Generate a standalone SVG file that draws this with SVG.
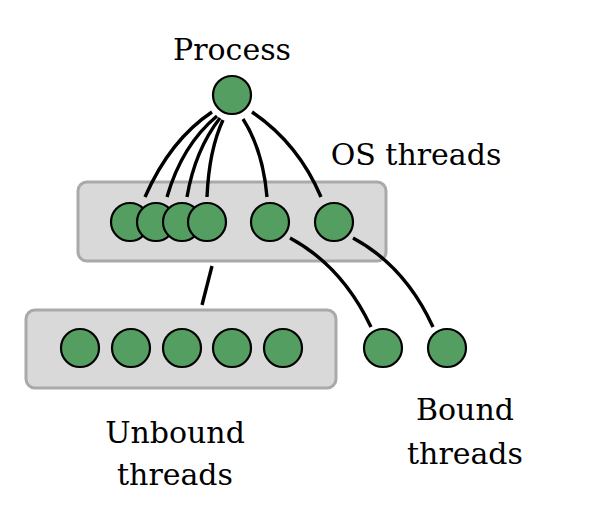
<svg xmlns="http://www.w3.org/2000/svg" width="600" height="517" viewBox="0 0 600 517">
<style>
.box{fill:#d9d9d9;stroke:#a9a9a9;stroke-width:3}
.n{fill:#559e62;stroke:#000;stroke-width:2.2}
.c{fill:none;stroke:#000;stroke-width:3.4;stroke-linecap:butt}
.t{font-family:"DejaVu Serif","Liberation Serif",serif;font-size:30px;fill:#000;text-anchor:middle}
</style>
<rect width="600" height="517" fill="#fff"/>
<g id="os-box"><rect class="box" x="78" y="182" width="308" height="79" rx="9"/></g>
<g id="unbound-box"><rect class="box" x="26" y="310" width="310" height="78" rx="9"/></g>
<g id="connectors">
<path class="c" d="M212,112 Q170,140 145,197"/>
<path class="c" d="M217,116 Q182,145 167,197"/>
<path class="c" d="M220,118 Q195,150 187,197"/>
<path class="c" d="M223,120 Q209,150 207,197"/>
<path class="c" d="M243,119 Q263,150 267,197"/>
<path class="c" d="M252,112 Q298,143 321,197"/>
<path class="c" d="M290,238 Q342,266 371,327"/>
<path class="c" d="M353,238 Q405,266 433,327"/>
<path class="c" d="M212,266 L202,305"/>
</g>
<g id="process"><circle class="n" cx="232" cy="95" r="19"/><text class="t" x="232" y="60">Process</text></g>
<g id="os-threads">
<circle class="n" cx="130" cy="222" r="19"/>
<circle class="n" cx="156" cy="222" r="19"/>
<circle class="n" cx="182" cy="222" r="19"/>
<circle class="n" cx="207" cy="222" r="19"/>
<circle class="n" cx="270" cy="222" r="19"/>
<circle class="n" cx="334" cy="222" r="19"/>
<text class="t" x="416" y="165">OS threads</text>
</g>
<g id="unbound-threads">
<circle class="n" cx="80" cy="348" r="19"/>
<circle class="n" cx="131" cy="348" r="19"/>
<circle class="n" cx="182" cy="348" r="19"/>
<circle class="n" cx="232" cy="348" r="19"/>
<circle class="n" cx="283" cy="348" r="19"/>
<text class="t" x="175" y="443">Unbound</text>
<text class="t" x="175" y="485">threads</text>
</g>
<g id="bound-threads">
<circle class="n" cx="383" cy="348" r="19"/>
<circle class="n" cx="447" cy="348" r="19"/>
<text class="t" x="465" y="420">Bound</text>
<text class="t" x="465" y="464">threads</text>
</g>
</svg>
